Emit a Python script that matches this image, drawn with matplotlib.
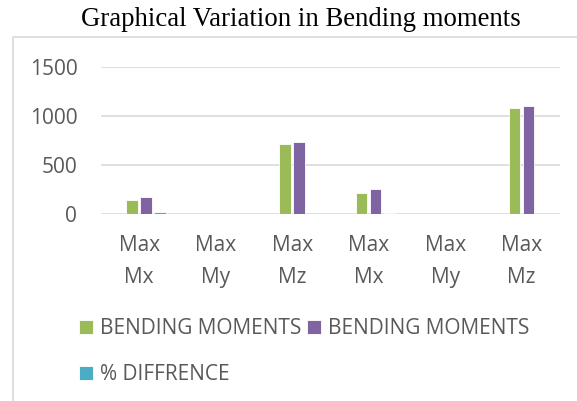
import matplotlib.pyplot as plt
import numpy as np
from matplotlib.patches import Rectangle

categories = ['Max\nMx', 'Max\nMy', 'Max\nMz', 'Max\nMx', 'Max\nMy', 'Max\nMz']
bm_1 = [143, 0, 717, 211, 0, 1081]
bm_2 = [170, 0, 734, 252, 0, 1099]
pct_diff = [18, 0, 0, 16, 0, 0]
series_names = ['BENDING MOMENTS', 'BENDING MOMENTS', '% DIFFRENCE']
colors = ['#9BBB59', '#8064A2', '#4BACC6']

plt.rcParams['font.family'] = ['Open Sans', 'DejaVu Sans']
grey = '#595959'

fig = plt.figure(figsize=(5.77, 4.01), dpi=100)
# light frame of the chart area
fig.patches.append(Rectangle((12.5 / 577, -0.1), 1.2, 1 - 37 / 401 + 0.1,
                             transform=fig.transFigure, fill=False,
                             edgecolor='#d9d9d9', linewidth=1.2))
fig.text(0.522, 0.951, 'Graphical Variation in Bending moments',
         family='Liberation Serif', fontsize=19.3, ha='center', va='center', color='black')

ax = fig.add_axes([0.175, 0.466, 0.7955, 0.368])
x = np.arange(len(categories))
slot = 0.183
width = 0.15
bars = []
for i, (vals, c, name) in enumerate(zip([bm_1, bm_2, pct_diff], colors, series_names)):
    b = ax.bar(x + (i - 0.5) * slot, vals, width, color=c, label=name,
               edgecolor='white', linewidth=0.6, zorder=3)
    bars.append(b)

ax.set_xlim(-0.5, len(categories) - 0.5)
ax.set_ylim(0, 1500)
ax.set_yticks([0, 500, 1000, 1500])
ax.yaxis.grid(True, color='#d9d9d9', linewidth=1.2, zorder=0)
for s in ax.spines.values():
    s.set_visible(False)
ax.tick_params(length=0, colors=grey, labelsize=15)
ax.tick_params(axis='y', pad=17)
ax.set_xticks(x)
ax.set_xticklabels(categories, linespacing=1.68)
ax.tick_params(axis='x', pad=15)

# legend rows: green, purple / cyan (column-major order)
order = [0, 2, 1]
fig.legend([bars[k] for k in order], [series_names[k] for k in order],
           loc='upper left', bbox_to_anchor=(0.137, 0.207), ncol=2, frameon=False,
           fontsize=15, handlelength=0.67, handleheight=0.67, handletextpad=0.32,
           columnspacing=0.3, labelspacing=1.2, labelcolor=grey,
           borderaxespad=0, borderpad=0)

fig.savefig('out.png', dpi=100)
